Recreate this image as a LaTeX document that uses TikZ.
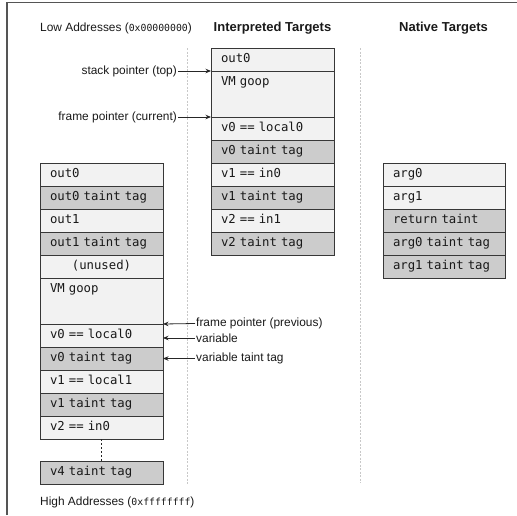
\documentclass[tikz,border=0pt]{standalone}
\usepackage{fontspec}
\setmainfont{Liberation Sans}
\setmonofont{DejaVu Sans Mono}
\usetikzlibrary{arrows.meta,positioning}
\definecolor{cellLight}{RGB}{242,242,242}
\definecolor{cellDark}{RGB}{204,204,204}
\definecolor{edgeCol}{RGB}{55,55,55}
\definecolor{frameCol}{RGB}{85,85,85}
\definecolor{guideCol}{RGB}{200,200,200}
\begin{document}
\begin{tikzpicture}[x=1pt,y=-1pt,
  cell/.style={draw=edgeCol, line width=1pt, rectangle, outer sep=0pt,
    inner xsep=10pt, inner ysep=0pt, minimum height=23pt,
    text height=9pt, text depth=2.5pt, align=left,
    font=\fontsize{12.3}{14}\selectfont\ttfamily, text=black!90},
  wl/.style={cell, text width=103pt},
  wr/.style={cell, text width=102pt},
  lite/.style={fill=cellLight},
  dark/.style={fill=cellDark},
  goop/.style={minimum height=46pt, text depth=25.5pt},
  ctr/.style={align=center},
  lbl/.style={font=\fontsize{11.9}{13}\selectfont, text=black!90, inner sep=1pt},
  ttl/.style={font=\fontsize{13}{15}\selectfont\bfseries, text=black!90, inner sep=0pt},
  ptr/.style={draw=black!85, line width=0.8pt, -{Stealth[length=5.5pt,width=4.5pt]}},
  guide/.style={draw=guideCol, line width=0.8pt, dash pattern=on 2pt off 1.5pt}
]
\useasboundingbox (0,0) rectangle (517,515);
% frame
\coordinate (fTL) at (7,2.5);
\coordinate (fTR) at (517,2.5);
\coordinate (fBL) at (7,515);
\draw[frameCol, line width=1.2pt] (fBL) -- (fTL) -- (fTR);
% guides
\coordinate (g1t) at (187,48);
\coordinate (g1b) at (187,485);
\coordinate (g2t) at (360,48);
\coordinate (g2b) at (360,483);
\draw[guide] (g1t) -- (g1b);
\draw[guide] (g2t) -- (g2b);
% titles
\node[lbl, anchor=west] (low) at (39,28) {Low Addresses ({\fontsize{9.8}{12}\selectfont\ttfamily 0x00000000})};
\node[lbl, anchor=west] (high) at (39,502) {High Addresses ({\fontsize{9.8}{12}\selectfont\ttfamily 0xffffffff})};
\node[ttl] (tint) at (272.5,28) {Interpreted Targets};
\node[ttl] (tnat) at (443.5,28) {Native Targets};
% interpreted column
\node[wl, lite, anchor=north west] (m1) at (211,48) {out0};
\node[wl, lite, goop, below=0pt of m1] (m2) {VM goop};
\node[wl, lite, below=0pt of m2] (m3) {v0 == local0};
\node[wl, dark, below=0pt of m3] (m4) {v0 taint tag};
\node[wl, lite, below=0pt of m4] (m5) {v1 == in0};
\node[wl, dark, below=0pt of m5] (m6) {v1 taint tag};
\node[wl, lite, below=0pt of m6] (m7) {v2 == in1};
\node[wl, dark, below=0pt of m7] (m8) {v2 taint tag};
% native column
\node[wr, lite, anchor=north west] (r1) at (383,163) {arg0};
\node[wr, lite, below=0pt of r1] (r2) {arg1};
\node[wr, dark, below=0pt of r2] (r3) {return taint};
\node[wr, dark, below=0pt of r3] (r4) {arg0 taint tag};
\node[wr, dark, below=0pt of r4] (r5) {arg1 taint tag};
% left (previous frame) column
\node[wl, lite, anchor=north west] (l1) at (40,163) {out0};
\node[wl, dark, below=0pt of l1] (l2) {out0 taint tag};
\node[wl, lite, below=0pt of l2] (l3) {out1};
\node[wl, dark, below=0pt of l3] (l4) {out1 taint tag};
\node[wl, lite, ctr, below=0pt of l4] (l5) {(unused)};
\node[wl, lite, goop, below=0pt of l5] (l6) {VM goop};
\node[wl, lite, below=0pt of l6] (l7) {v0 == local0};
\node[wl, dark, below=0pt of l7] (l8) {v0 taint tag};
\node[wl, lite, below=0pt of l8] (l9) {v1 == local1};
\node[wl, dark, below=0pt of l9] (l10) {v1 taint tag};
\node[wl, lite, below=0pt of l10] (l11) {v2 == in0};
\node[wl, dark, anchor=north west] (l12) at (40,461) {v4 taint tag};
\draw[black!85, line width=1.6pt, dash pattern=on 1.6pt off 2.4pt] (l11.south) -- (l12.north);
% pointer labels (interpreted)
\node[lbl, anchor=east] (sp) at (178,71) {stack pointer (top)};
\node[lbl, anchor=east] (fpc) at (178,117) {frame pointer (current)};
\draw[ptr] (sp.east) -- (m1.south west);
\draw[ptr] (fpc.east) -- (m2.south west);
% pointer labels (previous frame)
\node[lbl, anchor=west] (fpp) at (195,323.5) {frame pointer (previous)};
\node[lbl, anchor=west] (var) at (195,338) {variable};
\node[lbl, anchor=west] (vtt) at (195,358.5) {variable taint tag};
\draw[ptr] (fpp.west) -- (l6.south east);
\draw[ptr] (var.west) -- (l7.east |- var.west);
\draw[ptr] (vtt.west) -- (l8.east |- vtt.west);
\end{tikzpicture}
\end{document}
